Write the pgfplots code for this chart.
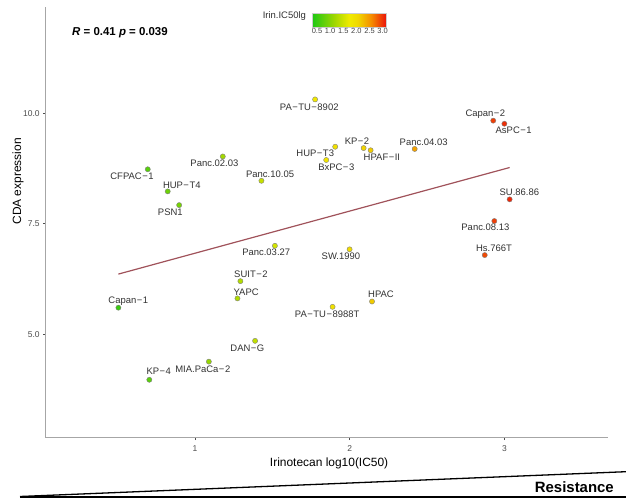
\documentclass[border=0pt]{standalone}
\usepackage{pgfplots}
\pgfplotsset{compat=1.18}
\usepackage{fontspec}
\setmainfont{Liberation Sans}
\definecolor{regline}{RGB}{160,82,90}
\definecolor{lab}{RGB}{50,50,50}
\newcommand{\mi}{\kern0.5pt−\kern0.5pt}
\tikzset{lbl/.style={font=\fontsize{9.5}{10}\selectfont, text=lab, inner sep=0pt}}
\begin{document}
\begin{tikzpicture}
\useasboundingbox (0,0) rectangle (626bp,501bp);
\begin{axis}[
  at={(45.7bp,63.3bp)}, anchor=south west,
  scale only axis, width=562.3bp, height=430.7bp,
  xmin=0.034, xmax=3.67, ymin=2.66, ymax=12.40,
  axis lines=left,
  axis line style={-, draw=gray!70, line width=1.3bp},
  xtick={1,2,3}, ytick={5,7.5,10},
  xticklabels={1,2,3}, yticklabels={5.0,7.5,10.0},
  tick align=outside, major tick length=2.5bp,
  tick style={black!70, line width=0.5bp},
  ticklabel style={font=\fontsize{8.5}{9}\selectfont, text=black!70},
  xticklabel style={yshift=-1.5bp},
  /pgf/number format/assume math mode=true,
  clip=false,
  colormap={gyr}{rgb255(0cm)=(30,200,20); rgb255(3cm)=(160,215,0); rgb255(5cm)=(240,235,0); rgb255(6.2cm)=(240,215,0); rgb255(8cm)=(245,140,0); rgb255(10cm)=(235,20,10)},
  point meta min=0.32, point meta max=3.13,
  colorbar horizontal,
  colorbar style={at={(312.3bp,496bp)}, anchor=north west, scale only axis,
    width=73.7bp, height=13.3bp,
    xtick={0.5,1,1.5,2,2.5,3}, xticklabels={0.5,1.0,1.5,2.0,2.5,3.0},
    xticklabel pos=lower,
    xticklabel style={font=\fontsize{7.5}{8}\selectfont, text=black!75, inner sep=1bp},
    major tick length=0pt, axis line style={draw=gray!40}},
]
\addplot[regline, line width=1.2bp] coordinates {(0.504,6.36) (3.034,8.77)};
\addplot[scatter, only marks, mark=*, mark size=2.6bp, point meta=x,
  scatter/use mapped color={draw=black!50, fill=mapped color},
  mark options={line width=0.4bp}] coordinates {
(1.776,10.31) (2.928,9.83) (3.000,9.76) (2.090,9.21) (2.135,9.16) (1.906,9.24)
(1.848,8.94) (2.420,9.19) (3.034,8.05) (2.935,7.56) (2.873,6.79) (1.999,6.92)
(2.144,5.74) (1.889,5.62) (1.179,9.02) (0.694,8.73) (1.429,8.47) (0.823,8.23)
(0.897,7.92) (1.516,7.00) (1.293,6.20) (1.274,5.81) (0.504,5.60) (0.704,3.97)
(1.089,4.38) (1.388,4.85)};
\node[lbl] at (axis cs:1.738,10.136) {PA\mi TU\mi 8902};
\node[lbl] at (axis cs:2.877,9.984) {Capan\mi 2};
\node[lbl] at (axis cs:3.060,9.606) {AsPC\mi 1};
\node[lbl] at (axis cs:2.047,9.373) {KP\mi 2};
\node[lbl] at (axis cs:1.777,9.102) {HUP\mi T3};
\node[lbl] at (axis cs:1.913,8.778) {BxPC\mi 3};
\node[lbl] at (axis cs:2.208,8.995) {HPAF\mi II};
\node[lbl] at (axis cs:2.478,9.351) {Panc.04.03};
\node[lbl] at (axis cs:3.097,8.213) {SU.86.86};
\node[lbl] at (axis cs:2.877,7.412) {Panc.08.13};
\node[lbl] at (axis cs:2.933,6.946) {Hs.766T};
\node[lbl] at (axis cs:1.943,6.765) {SW.1990};
\node[lbl] at (axis cs:2.202,5.896) {HPAC};
\node[lbl] at (axis cs:1.854,5.459) {PA\mi TU\mi 8988T};
\node[lbl] at (axis cs:1.125,8.860) {Panc.02.03};
\node[lbl] at (axis cs:0.592,8.581) {CFPAC\mi 1};
\node[lbl] at (axis cs:1.485,8.620) {Panc.10.05};
\node[lbl] at (axis cs:0.914,8.378) {HUP\mi T4};
\node[lbl] at (axis cs:0.840,7.767) {PSN1};
\node[lbl] at (axis cs:1.460,6.846) {Panc.03.27};
\node[lbl] at (axis cs:1.361,6.357) {SUIT\mi 2};
\node[lbl] at (axis cs:1.330,5.950) {YAPC};
\node[lbl] at (axis cs:0.568,5.753) {Capan\mi 1};
\node[lbl] at (axis cs:1.338,4.683) {DAN\mi G};
\node[lbl] at (axis cs:1.050,4.208) {MIA.PaCa\mi 2};
\node[lbl] at (axis cs:0.765,4.154) {KP\mi 4};
\node[anchor=west, inner sep=0pt, font=\fontsize{11.5}{12}\selectfont\bfseries] at (axis cs:0.204,11.817) {\textit{R} = 0.41 \textit{p} = 0.039};
\node[anchor=east, inner sep=0pt, font=\fontsize{9.5}{10}\selectfont, text=lab] at (axis cs:1.718,12.186) {Irin.IC50lg};
\node[rotate=90, inner sep=0pt, font=\fontsize{12}{13}\selectfont] at (rel axis cs:-0.0493,0.595) {CDA expression};
\node[inner sep=0pt, font=\fontsize{12}{13}\selectfont] at (rel axis cs:0.504,-0.0594) {Irinotecan log10(IC50)};
\end{axis}
\node[anchor=east, inner sep=0pt, font=\fontsize{15}{16}\selectfont\bfseries] at (614bp,14bp) {Resistance};
\draw[line width=1.8bp] (20bp,4.3bp) -- (626bp,4.3bp);
\draw[line width=1.3bp] (20bp,4.5bp) -- (626bp,29.3bp);
\end{tikzpicture}
\end{document}
